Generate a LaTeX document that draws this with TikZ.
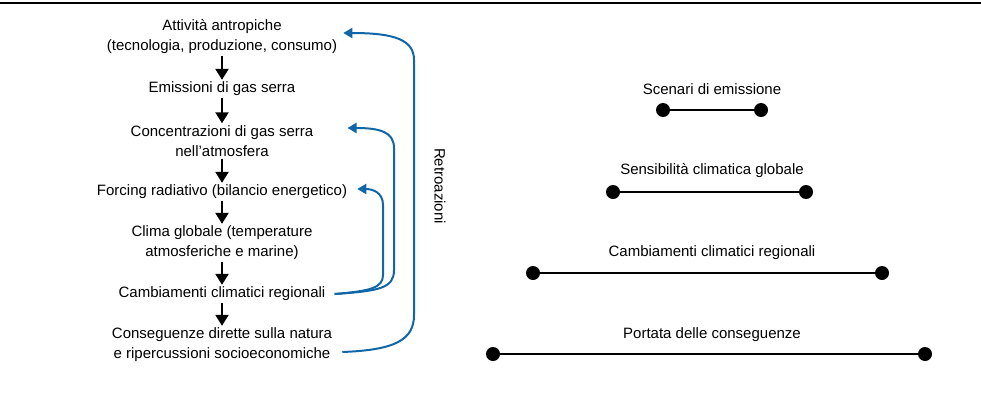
\documentclass[tikz,border=0pt]{standalone}
\usepackage{fontspec}
\setmainfont{Liberation Sans}
\usepackage{tikz}
\usetikzlibrary{arrows.meta,shapes}
\definecolor{fbblue}{RGB}{16,102,166}
\tikzstyle{edge} = [draw,line width=2pt,-]
\tikzstyle{dedge} = [draw,line width=2.2pt,-{Triangle[length=11pt,width=13pt]}]
\tikzstyle{fedge} = [draw,fbblue,line width=2pt,-{Triangle[length=9pt,width=10pt]}]
\tikzset{
  label/.style = {align=center, inner sep=2pt, text centered,
    font=\fontsize{15}{20}\selectfont},
  dot/.style = {circle, fill=black, minimum size=14pt, inner sep=0pt},% extremites des barres
}
\begin{document}
\begin{tikzpicture}[x=1pt,y=-1pt]

    \draw[line width=1.5pt] (0,3) -- (981,3);

    % chaine de gauche
    \node[label] (attiv) at (222,37) {Attività antropiche\\(tecnologia, produzione, consumo)};
    \node[label] (emis) at (222,89) {Emissioni di gas serra};
    \node[label] (conc) at (222,141) {Concentrazioni di gas serra\\nell’atmosfera};
    \node[label] (forc) at (222,192) {Forcing radiativo (bilancio energetico)};
    \node[label] (clima) at (222,243) {Clima globale (temperature\\atmosferiche e marine)};
    \node[label] (camb) at (222,294) {Cambiamenti climatici regionali};
    \node[label] (conseq) at (222,345) {Conseguenze dirette sulla natura\\e ripercussioni socioeconomiche};

    \path[dedge] (attiv) -- (emis);
    \path[dedge] (emis) -- (conc);
    \path[dedge] (conc) -- (forc);
    \path[dedge] (forc) -- (clima);
    \path[dedge] (clima) -- (camb);
    \path[dedge] (camb) -- (conseq);

    % retroazioni
    \path[fedge] ([xshift=8pt,yshift=-7pt]conseq.east) .. controls (395,350) and (414,340) .. (414,315)
        -- (414,60) .. controls (414,40) and (395,33) .. ([xshift=4pt,yshift=4pt]attiv.east);
    \path[fedge] ([xshift=7pt]camb.east) .. controls (380,291) and (394,288) .. (394,270)
        -- (394,148) .. controls (394,132) and (380,128) .. ([xshift=32pt,yshift=13pt]conc.east);
    \path[fedge] ([xshift=7pt]camb.east) .. controls (370,291) and (383,288) .. (383,275)
        -- (383,205) .. controls (383,192) and (372,189) .. ([xshift=8pt,yshift=3pt]forc.east);

    \node[label,rotate=-90] (retro) at (440,186) {Retroazioni};

    % barre de droite
    \node[label] (scen) at (712,89) {Scenari di emissione};
    \node[dot] (s1) at (663,110) {};
    \node[dot] (s2) at (761,110) {};
    \path[edge] (s1) -- (s2);

    \node[label] (sens) at (712,171) {Sensibilità climatica globale};
    \node[dot] (g1) at (613,192) {};
    \node[dot] (g2) at (806,192) {};
    \path[edge] (g1) -- (g2);

    \node[label] (reg) at (712,253) {Cambiamenti climatici regionali};
    \node[dot] (r1) at (533,273) {};
    \node[dot] (r2) at (882,273) {};
    \path[edge] (r1) -- (r2);

    \node[label] (port) at (712,335) {Portata delle conseguenze};
    \node[dot] (p1) at (493,354) {};
    \node[dot] (p2) at (925,354) {};
    \path[edge] (p1) -- (p2);

    \pgfresetboundingbox
    \path [use as bounding box] (0,0) rectangle (981,399);
\end{tikzpicture}
\end{document}
